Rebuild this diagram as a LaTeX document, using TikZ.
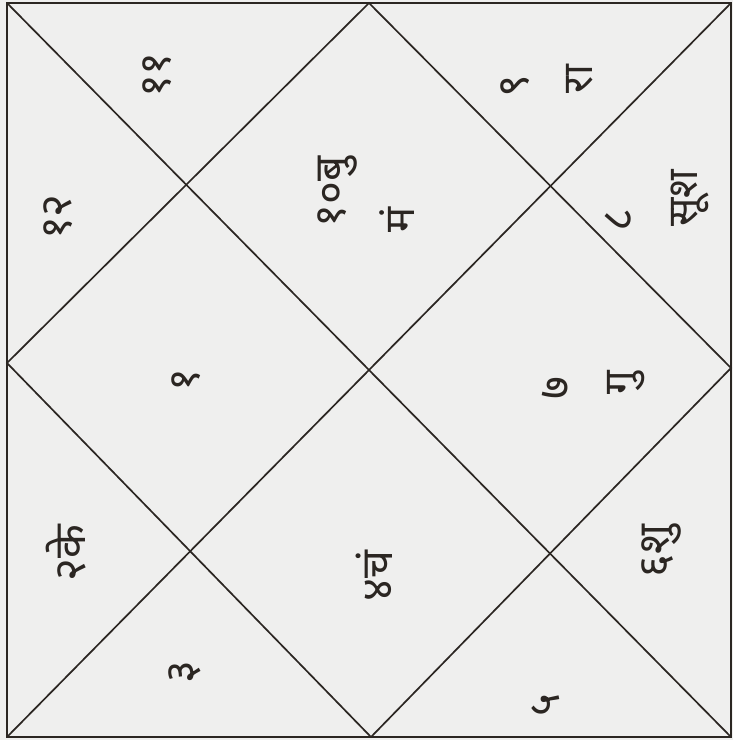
\documentclass[tikz,border=0pt]{standalone}
\usepackage{fontspec}
\usepackage{xcolor}
\usepackage{tikz}
\newfontfamily\deva[Script=Devanagari]{Noto Sans}
\definecolor{paper}{HTML}{EFEFEE}
\definecolor{inkgrey}{HTML}{2B2622}

\begin{document}
\begin{tikzpicture}[x=1pt, y=-1pt,
  chartline/.style={draw=inkgrey, line width=1.7pt},
  signno/.style={rotate=90, inner sep=0pt, text=inkgrey,
              font=\deva\fontsize{44}{46}\selectfont},
  planet/.style={rotate=90, inner sep=0pt, text=inkgrey,
              font=\deva\fontsize{42}{44}\selectfont}
]
\useasboundingbox[fill=paper] (0,0) rectangle (733,740);

% frame corners and mid points
\coordinate (ctl) at (7,3);
\coordinate (ctr) at (731,3);
\coordinate (cbr) at (731,737);
\coordinate (cbl) at (7,737);
\coordinate (mtop) at (369,3);
\coordinate (mright) at (731,368);
\coordinate (mbot) at (371,737);
\coordinate (mleft) at (7,363);

\draw[chartline] (ctl) rectangle (cbr);
\draw[chartline] (ctl) -- (cbr);
\draw[chartline] (ctr) -- (cbl);
\draw[chartline] (mtop) -- (mright) -- (mbot) -- (mleft) -- cycle;

% houses
\node[signno] (h1)  at (186,380) {१};
\node[signno] (h2)  at (66,553)  {२के};
\node[signno] (h3)  at (185,672) {३};
\node[signno] (h4)  at (374,576) {४चं};
\node[signno] (h5)  at (546,705) {५};
\node[signno] (h6)  at (661,551) {६शु};
\node[signno] (h7)  at (556,388) {७};
\node[planet] (p7)  at (626,383) {गु};
\node[signno] (h8)  at (619,220) {८};
\node[planet] (p8)  at (690,198) {सूश};
\node[signno] (h9)  at (515,86)  {९};
\node[planet] (p9)  at (580,79)  {रा};
\node[signno] (h10) at (337,192) {१०बु};
\node[planet] (p10) at (397,220) {मं};
\node[signno] (h11) at (157,75)  {११};
\node[signno] (h12) at (58,217)  {१२};
\end{tikzpicture}
\end{document}
